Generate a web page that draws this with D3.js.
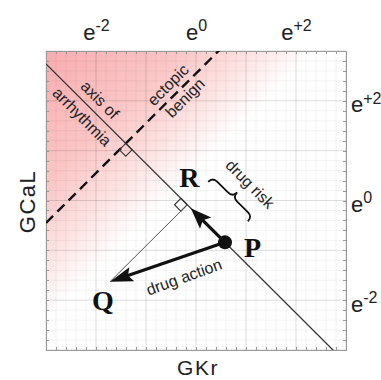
<!DOCTYPE html>
<meta charset="utf-8">
<script src="https://cdn.jsdelivr.net/npm/d3@7"></script>
<style>
body {
  margin: 0;
  background-color: #fff;
}
text {
  font-family: "Liberation Sans", Arial, Helvetica, sans-serif;
  fill: #222;
}
.big {
  font-family: "Liberation Serif", "Times New Roman", serif;
  font-weight: bold;
  fill: #111;
}
.frame path, .frame line {
  stroke: #999;
  shape-rendering: crispEdges;
}
</style>
<body>
  <div id="chart"></div>
</body>
<script>
// both axes are ln(conductance), labelled as powers of e
var domain = [-3, 3];
var tickValues = [-2, 0, 2];
var tickLabels = ["-2", "0", "+2"];

// points in (ln GKr, ln GCaL)
var pointP = [0.58, -0.84];
var pointQ = [-1.72, -1.63];
// ectopic / benign boundary:  ln GCaL = ln GKr + benignOffset
var benignOffset = 2.55;

// annotation texts, centre in data units, angle in degrees
var noteTexts = ["axis of", "arrhythmia", "ectopic", "benign", "drug risk", "drug action"];
var noteX = [-1.92, -2.28, -0.56, -0.22, 1.08, -0.24];
var noteY = [2.02, 1.68, 2.32, 2.06, 0.33, -1.535];
var noteAngle = [45, 45, -45, -45, 45, -20];

var margin = {top: 51, right: 35, bottom: 30, left: 46},
    width = 300,
    height = 299;

var svg = d3.select("#chart").append("svg")
    .attr("width", 381)
    .attr("height", 380);

var x = d3.scaleLinear().domain(domain).range([0, width]);
var y = d3.scaleLinear().domain(domain).range([height, 0]);

var g = svg.append("g")
    .attr("transform", "translate(" + margin.left + "," + margin.top + ")");

var defs = svg.append("defs");
defs.append("clipPath").attr("id", "plot")
  .append("rect").attr("width", width).attr("height", height);

// pink shading grows towards low GKr / high GCaL
var grad = defs.append("linearGradient")
    .attr("id", "risk")
    .attr("gradientUnits", "userSpaceOnUse")
    .attr("x1", x(-0.3)).attr("y1", y(0.3))
    .attr("x2", x(-3)).attr("y2", y(3));
grad.append("stop").attr("offset", 0).attr("stop-color", "#ffffff");
grad.append("stop").attr("offset", 0.25).attr("stop-color", "#fde0e0");
grad.append("stop").attr("offset", 0.5).attr("stop-color", "#fbc6c6");
grad.append("stop").attr("offset", 1).attr("stop-color", "#f8adb0");

g.append("rect")
    .attr("width", width)
    .attr("height", height)
    .attr("fill", "url(#risk)");

// grid
var minor = d3.range(domain[0], domain[1] + 0.001, 0.2);
var major = d3.range(domain[0], domain[1] + 0.001, 1);
var grid = g.append("g");
[[minor, 0.07], [major, 0.13]].forEach(function(s) {
  grid.selectAll(null).data(s[0]).enter().append("line")
    .attr("x1", function(d) { return x(d); }).attr("x2", function(d) { return x(d); })
    .attr("y1", 0).attr("y2", height)
    .attr("stroke", "#000").attr("stroke-opacity", s[1]).attr("stroke-width", 0.7);
  grid.selectAll(null).data(s[0]).enter().append("line")
    .attr("y1", function(d) { return y(d); }).attr("y2", function(d) { return y(d); })
    .attr("x1", 0).attr("x2", width)
    .attr("stroke", "#000").attr("stroke-opacity", s[1]).attr("stroke-width", 0.7);
});

// frame with small inward ticks
g.append("g").attr("class", "frame")
    .attr("transform", "translate(0," + height + ")")
    .call(d3.axisBottom(x).tickValues(minor).tickSize(-3).tickSizeOuter(0).tickFormat(""));
g.append("g").attr("class", "frame")
    .call(d3.axisLeft(y).tickValues(minor).tickSize(-3).tickSizeOuter(0).tickFormat(""));
g.append("g").attr("class", "frame")
    .attr("transform", "translate(" + width + ",0)")
    .call(d3.axisRight(y).tickValues(minor).tickSize(-3).tickSizeOuter(0).tickFormat(""));
g.append("g").attr("class", "frame")
    .call(d3.axisTop(x).tickValues(minor).tickSize(-3).tickSizeOuter(0).tickFormat(""));

// e^k tick labels
function powerLabels(sel, dy) {
  sel.select(".domain").remove();
  sel.attr("font-size", 22);
  sel.selectAll(".tick text").each(function(d, i) {
    var t = d3.select(this).attr("dy", dy);
    t.text("e");
    t.append("tspan").attr("dy", "-0.55em").attr("font-size", 16).text(tickLabels[i]);
  });
}
g.append("g")
    .call(d3.axisTop(x).tickValues(tickValues).tickSize(0).tickPadding(11).tickFormat(""))
    .call(powerLabels, "0em");
g.append("g")
    .attr("transform", "translate(" + width + ",0)")
    .call(d3.axisRight(y).tickValues(tickValues).tickSize(0).tickPadding(5).tickFormat(""))
    .call(powerLabels, "0.5em");

// axis titles
svg.append("text")
    .attr("x", margin.left + width / 2 + 2)
    .attr("y", 375)
    .attr("text-anchor", "middle")
    .attr("font-size", 21)
    .attr("letter-spacing", 1.5)
    .text("GKr");
svg.append("text")
    .attr("transform", "translate(35," + (margin.top + height / 2 + 1) + ") rotate(-90)")
    .attr("text-anchor", "middle")
    .attr("font-size", 22)
    .attr("letter-spacing", 1.5)
    .text("GCaL");

// geometry
var axisC = pointP[0] + pointP[1];           // axis of arrhythmia: x + y = axisC
var t = (pointQ[0] + pointQ[1] - axisC) / 2;
var pointR = [pointQ[0] - t, pointQ[1] - t]; // projection of Q on the axis
var cross = [(axisC - benignOffset) / 2, (axisC + benignOffset) / 2];

function px(d) { return [x(d[0]), y(d[1])]; }
var P = px(pointP), Q = px(pointQ), R = px(pointR), I = px(cross);

var plot = g.append("g").attr("clip-path", "url(#plot)");

plot.append("line")
    .attr("x1", x(domain[0])).attr("y1", y(axisC - domain[0]))
    .attr("x2", x(domain[1])).attr("y2", y(axisC - domain[1]))
    .attr("stroke", "#333").attr("stroke-width", 1.3);

plot.append("line")
    .attr("x1", x(domain[0])).attr("y1", y(domain[0] + benignOffset))
    .attr("x2", x(domain[1])).attr("y2", y(domain[1] + benignOffset))
    .attr("stroke", "#111").attr("stroke-width", 2.4)
    .attr("stroke-dasharray", "10,6");

// unit vectors in pixels: eu along axis (down-right), ev across (up-right)
var L = Math.hypot(P[0] - R[0], P[1] - R[1]);
var eu = [(P[0] - R[0]) / L, (P[1] - R[1]) / L];
var ev = [eu[1], -eu[0]];
function at(o, a, b) { return [o[0] + a * eu[0] + b * ev[0], o[1] + a * eu[1] + b * ev[1]]; }

// right-angle markers
var s = 9;
var sq1 = [I, at(I, s, 0), at(I, s, -s), at(I, 0, -s)];
var sq2 = [R, at(R, -s, 0), at(R, -s, -s), at(R, 0, -s)];
[sq1, sq2].forEach(function(q) {
  g.append("path")
    .attr("d", "M" + q.join("L") + "Z")
    .attr("fill", "none").attr("stroke", "#333").attr("stroke-width", 1.1);
});

// thin projection line Q -> R
g.append("line")
    .attr("x1", Q[0]).attr("y1", Q[1]).attr("x2", R[0]).attr("y2", R[1])
    .attr("stroke", "#555").attr("stroke-width", 1);

// thick arrows
function arrow(from, to, len, half) {
  var d = Math.hypot(to[0] - from[0], to[1] - from[1]);
  var ux = (to[0] - from[0]) / d, uy = (to[1] - from[1]) / d;
  var bx = to[0] - ux * len, by = to[1] - uy * len;
  g.append("line")
      .attr("x1", from[0]).attr("y1", from[1])
      .attr("x2", bx + ux * 4).attr("y2", by + uy * 4)
      .attr("stroke", "#111").attr("stroke-width", 3.2);
  var pts = [to,
    [bx - uy * half, by + ux * half],
    [bx + ux * 4, by + uy * 4],
    [bx + uy * half, by - ux * half]];
  g.append("path").attr("d", "M" + pts.join("L") + "Z").attr("fill", "#111");
}
var Rtip = [R[0] + eu[0] * 5, R[1] + eu[1] * 5];
arrow(P, Rtip, 21, 8);
arrow(P, Q, 23, 7.5);

g.append("circle")
    .attr("cx", P[0]).attr("cy", P[1]).attr("r", 7)
    .attr("fill", "#111");

// brace beside P-R
var mid = [(P[0] + R[0]) / 2, (P[1] + R[1]) / 2];
var B = at(mid, 0, 31);
var h = 28, w = 13;
function bp(a, b) { return at(B, a, b).join(","); }
var brace = "M" + bp(-h, 0) +
    "Q" + bp(-h, w / 2) + " " + bp(-h + w / 2, w / 2) +
    "L" + bp(-w / 2, w / 2) +
    "Q" + bp(0, w / 2) + " " + bp(0, w) +
    "Q" + bp(0, w / 2) + " " + bp(w / 2, w / 2) +
    "L" + bp(h - w / 2, w / 2) +
    "Q" + bp(h, w / 2) + " " + bp(h, 0);
g.append("path").attr("d", brace)
    .attr("fill", "none").attr("stroke", "#111").attr("stroke-width", 1.8);

// annotation texts
g.selectAll(".note")
    .data(noteTexts)
    .enter().append("text")
    .attr("class", "note")
    .attr("transform", function(d, i) {
      return "translate(" + x(noteX[i]) + "," + y(noteY[i]) + ") rotate(" + noteAngle[i] + ")";
    })
    .attr("text-anchor", "middle")
    .attr("dominant-baseline", "central")
    .attr("font-size", 16)
    .text(function(d) { return d; });

// point labels
g.append("text").attr("class", "big").attr("font-size", 28)
    .attr("x", P[0] + 19).attr("y", P[1] + 15).text("P");
g.append("text").attr("class", "big").attr("font-size", 28)
    .attr("text-anchor", "middle")
    .attr("x", Q[0] - 7).attr("y", Q[1] + 28).text("Q");
g.append("text").attr("class", "big").attr("font-size", 28)
    .attr("text-anchor", "middle")
    .attr("x", R[0] + 2).attr("y", R[1] - 18).text("R");
</script>
